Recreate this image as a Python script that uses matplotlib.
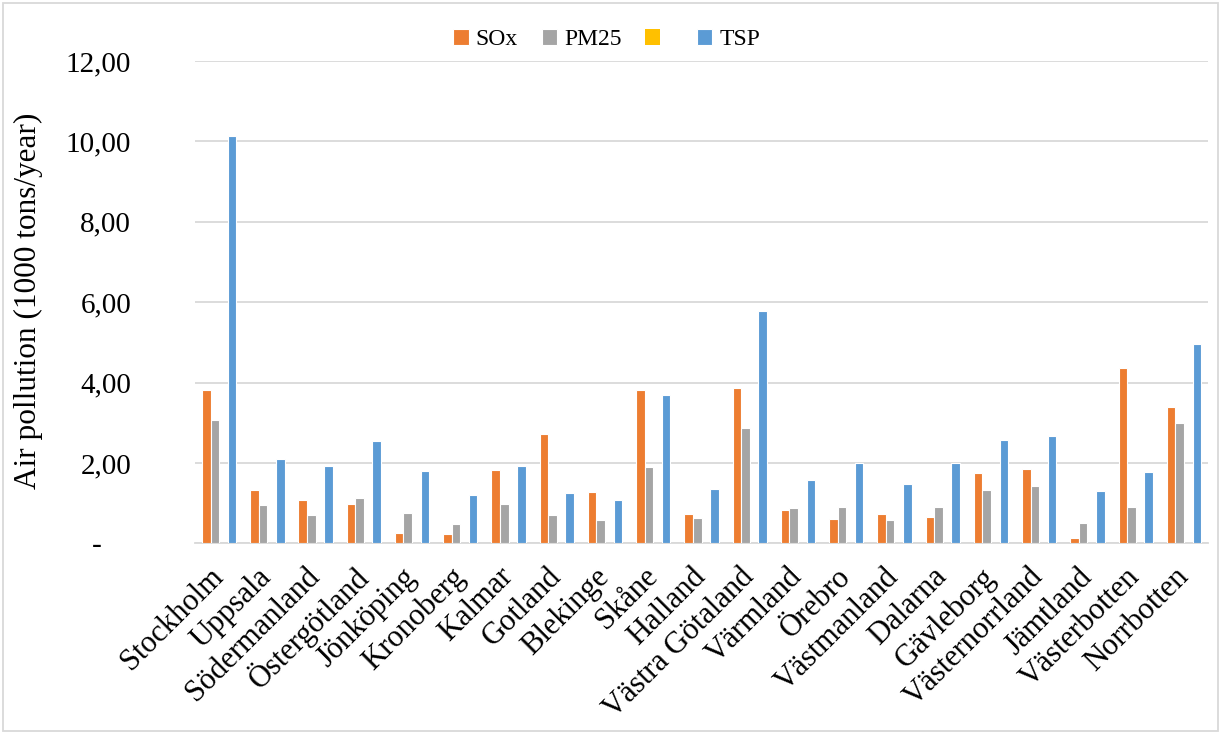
import matplotlib.pyplot as plt
from matplotlib.patches import Rectangle
import numpy as np

# regions and emission values (1000 tons/year)
regions = ["Stockholm", "Uppsala", "Södermanland", "Östergötland", "Jönköping",
           "Kronoberg", "Kalmar", "Gotland", "Blekinge", "Skåne", "Halland",
           "Västra Götaland", "Värmland", "Örebro", "Västmanland", "Dalarna",
           "Gävleborg", "Västernorrland", "Jämtland", "Västerbotten", "Norrbotten"]
sox = [3.81, 1.33, 1.07, 0.99, 0.26, 0.22, 1.82, 2.71, 1.28, 3.81, 0.72,
       3.87, 0.82, 0.61, 0.72, 0.66, 1.74, 1.86, 0.12, 4.36, 3.38]
pm25 = [3.07, 0.95, 0.70, 1.12, 0.75, 0.49, 0.97, 0.70, 0.57, 1.91, 0.63,
        2.88, 0.88, 0.90, 0.58, 0.90, 1.33, 1.43, 0.50, 0.90, 2.99]
blank = [0.0] * len(regions)  # yellow series, all zero
tsp = [10.14, 2.09, 1.92, 2.55, 1.81, 1.19, 1.92, 1.24, 1.08, 3.68, 1.35,
       5.79, 1.58, 1.99, 1.48, 2.01, 2.57, 2.67, 1.29, 1.78, 4.95]

yticks = [0, 2, 4, 6, 8, 10, 12]

plt.rcParams['font.family'] = ['Liberation Serif', 'DejaVu Serif']

fig = plt.figure(figsize=(12.21, 7.34), dpi=100)
ax = fig.add_axes([0.1597, 0.2598, 0.8297, 0.6571])

x = np.arange(len(regions))
w = 0.178
series = [(sox, "SOx", "#ED7D31"), (pm25, "PM25", "#A5A5A5"),
          (blank, " ", "#FFC000"), (tsp, "TSP", "#5B9BD5")]
handles = []
for i, (vals, lab, col) in enumerate(series):
    lw = 0 if lab == " " else 0.8
    b = ax.bar(x + (i - 1.5) * w, vals, w, color=col, edgecolor="white",
               linewidth=lw, label=lab, zorder=3)
    handles.append(b)

ax.set_xlim(-0.5, len(regions) - 0.5)
ax.set_ylim(0, 12)
ax.set_yticks(yticks)
ax.set_yticklabels(["-    " if v == 0 else f"{v:.2f}".replace(".", ",") for v in yticks],
                   fontsize=21)
ax.grid(axis="y", color="#D9D9D9", linewidth=1.3, zorder=0)
ax.set_axisbelow(True)
ax.tick_params(axis="y", length=0, pad=46)
ax.tick_params(axis="x", length=0, pad=21)
ax.set_xticks(x)
ax.set_xticklabels(regions, rotation=45, ha="right", va="center",
                   rotation_mode="anchor", fontsize=22)
for s in ["top", "right", "left"]:
    ax.spines[s].set_visible(False)
ax.spines["bottom"].set_color("#D9D9D9")
ax.spines["bottom"].set_linewidth(1.3)

fig.text(0.023, 0.59, "Air pollution (1000 tons/year)", rotation=90,
         ha="center", va="center", fontsize=22.5)

fig.legend(handles=handles, labels=[s[1] for s in series], loc="center",
           bbox_to_anchor=(0.497, 0.946), ncol=4, frameon=False, fontsize=17,
           handlelength=0.65, handleheight=0.65, handletextpad=0.3,
           columnspacing=1.0)

# light border around the chart area
fig.patches.append(Rectangle((3 / 1221, 3 / 734), 1215 / 1221, 728 / 734,
                             transform=fig.transFigure, fill=False,
                             edgecolor="#D9D9D9", linewidth=1.3))

fig.savefig("out.png", dpi=100)
